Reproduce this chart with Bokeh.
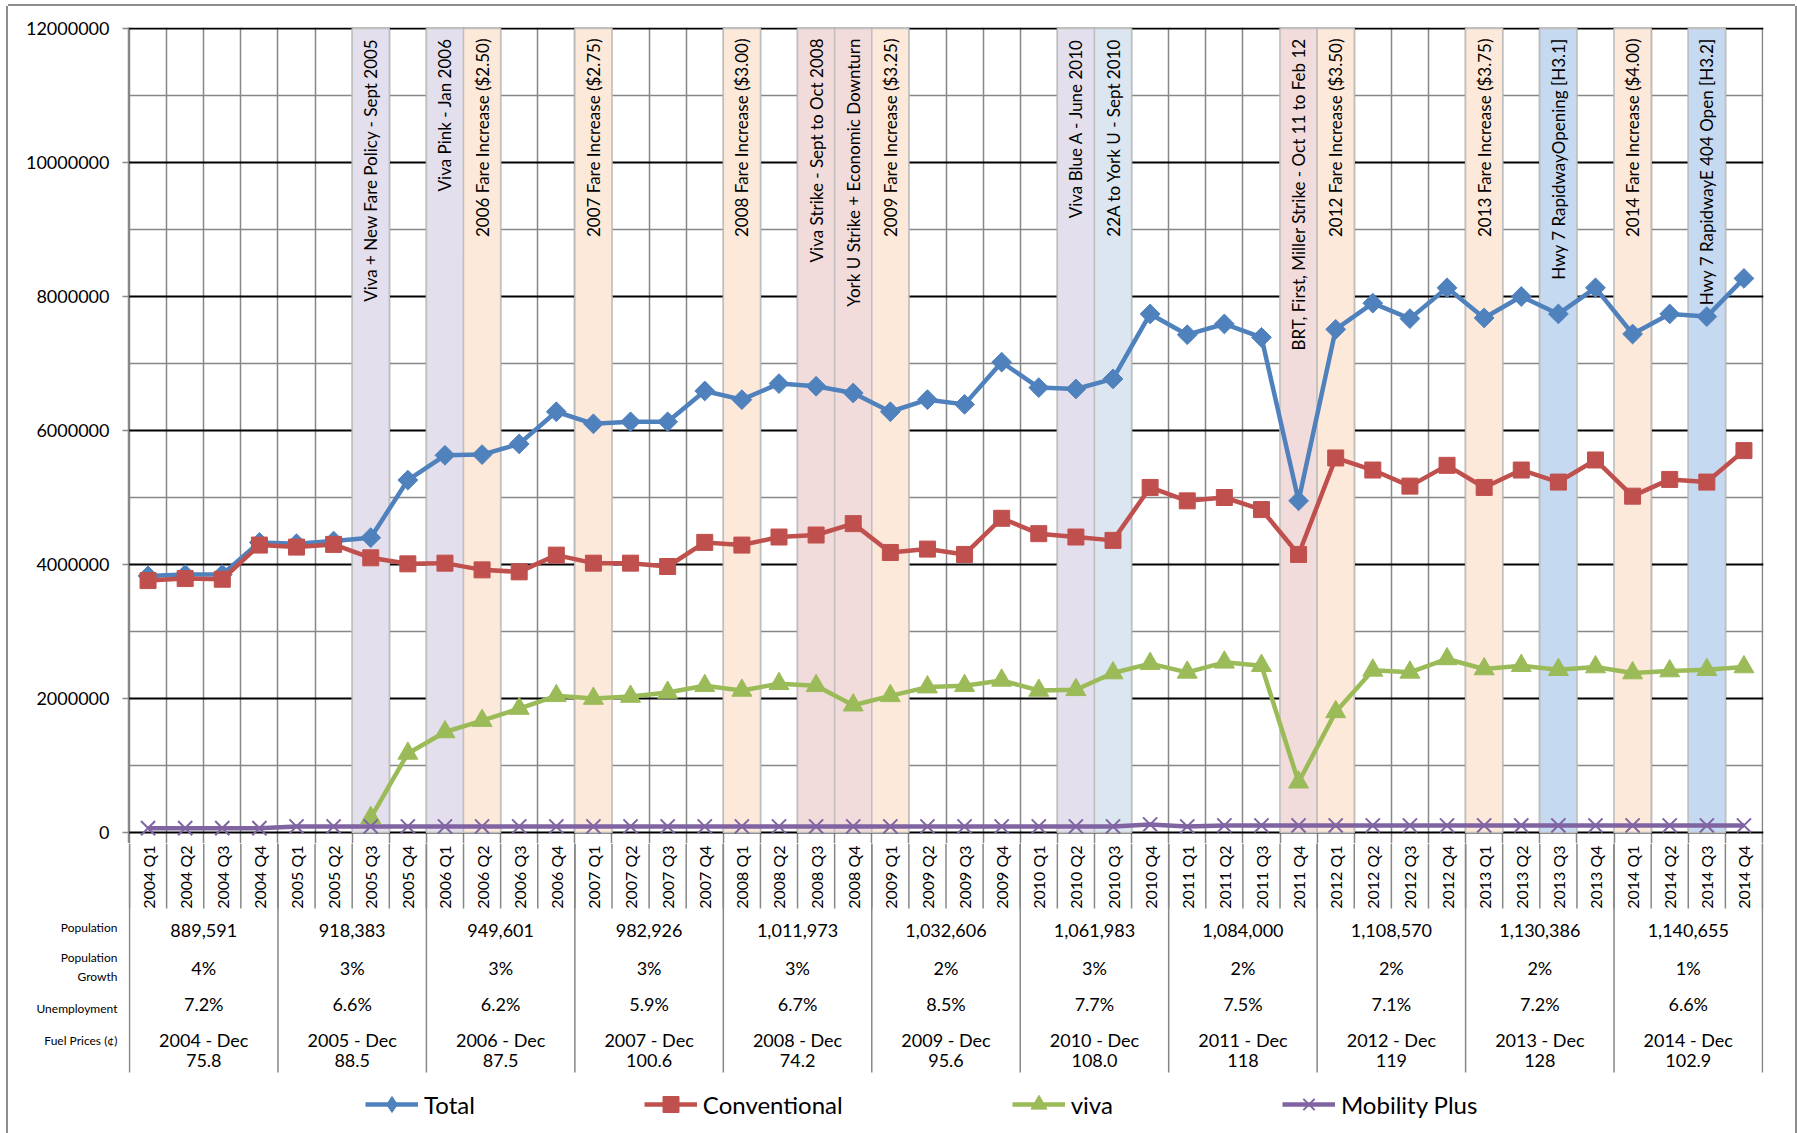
import math
from bokeh.plotting import figure
from bokeh.models import (Range1d, FixedTicker, Grid, Legend, LegendItem,
                          NumeralTickFormatter, ColumnDataSource)
from bokeh.layouts import column
from bokeh.embed import file_html
from bokeh.resources import INLINE
from bokeh.core.properties import value

nan = float("nan")

# ---------------- data ----------------
years = ["2004", "2005", "2006", "2007", "2008", "2009", "2010", "2011", "2012", "2013", "2014"]
quarter_names = ["Q1", "Q2", "Q3", "Q4"]
quarters = [f"{y} {q}" for y in years for q in quarter_names]

total = [3830000, 3850000, 3850000, 4330000,
         4310000, 4350000, 4400000, 5260000,
         5630000, 5640000, 5800000, 6280000,
         6100000, 6130000, 6130000, 6590000,
         6460000, 6700000, 6660000, 6560000,
         6280000, 6460000, 6390000, 7020000,
         6640000, 6620000, 6770000, 7740000,
         7430000, 7590000, 7390000, 4950000,
         7510000, 7900000, 7670000, 8130000,
         7680000, 8000000, 7740000, 8130000,
         7440000, 7740000, 7700000, 8270000]

conventional = [3760000, 3790000, 3780000, 4290000,
                4260000, 4300000, 4100000, 4010000,
                4020000, 3920000, 3890000, 4140000,
                4020000, 4020000, 3970000, 4330000,
                4290000, 4410000, 4440000, 4610000,
                4180000, 4230000, 4150000, 4690000,
                4460000, 4410000, 4360000, 5150000,
                4950000, 5000000, 4820000, 4150000,
                5590000, 5410000, 5170000, 5480000,
                5150000, 5410000, 5230000, 5560000,
                5020000, 5270000, 5230000, 5700000]

viva = [nan, nan, nan, nan,
        nan, nan, 220000, 1180000,
        1500000, 1670000, 1850000, 2040000,
        2000000, 2030000, 2090000, 2190000,
        2120000, 2220000, 2190000, 1900000,
        2040000, 2170000, 2190000, 2270000,
        2120000, 2130000, 2380000, 2520000,
        2390000, 2540000, 2490000, 750000,
        1800000, 2420000, 2390000, 2590000,
        2440000, 2490000, 2430000, 2470000,
        2380000, 2410000, 2430000, 2470000]

mobility_plus = [65000, 65000, 65000, 65000,
                 90000, 90000, 90000, 90000,
                 90000, 90000, 90000, 90000,
                 90000, 90000, 90000, 90000,
                 90000, 90000, 90000, 90000,
                 90000, 90000, 90000, 90000,
                 90000, 90000, 90000, 120000,
                 90000, 105000, 105000, 105000,
                 105000, 105000, 105000, 105000,
                 105000, 105000, 105000, 105000,
                 105000, 105000, 105000, 105000]

# event bands: quarter label, text, kind
band_quarter = ["2005 Q3", "2006 Q1", "2006 Q2", "2007 Q1", "2008 Q1", "2008 Q3", "2008 Q4",
                "2009 Q1", "2010 Q2", "2010 Q3", "2011 Q4", "2012 Q1", "2013 Q1", "2013 Q3",
                "2014 Q1", "2014 Q3"]
band_text = ["Viva + New Fare Policy - Sept 2005", "Viva Pink - Jan 2006",
             "2006 Fare Increase ($2.50)", "2007 Fare Increase ($2.75)",
             "2008 Fare Increase ($3.00)", "Viva Strike - Sept to Oct 2008",
             "York U Strike + Economic Downturn", "2009 Fare Increase ($3.25)",
             "Viva Blue A - June 2010", "22A to York U - Sept 2010",
             "BRT, First, Miller Strike - Oct 11 to Feb 12", "2012 Fare Increase ($3.50)",
             "2013 Fare Increase ($3.75)", "Hwy 7 RapidwayOpening [H3.1]",
             "2014 Fare Increase ($4.00)", "Hwy 7 RapidwayE 404 Open [H3.2]"]
band_kind = ["viva", "viva", "fare", "fare", "fare", "strike", "strike", "fare",
             "viva", "route", "strike", "fare", "fare", "rapidway", "fare", "rapidway"]

population = ["889,591", "918,383", "949,601", "982,926", "1,011,973", "1,032,606",
              "1,061,983", "1,084,000", "1,108,570", "1,130,386", "1,140,655"]
population_growth = ["4%", "3%", "3%", "3%", "3%", "2%", "3%", "2%", "2%", "2%", "1%"]
unemployment = ["7.2%", "6.6%", "6.2%", "5.9%", "6.7%", "8.5%", "7.7%", "7.5%", "7.1%", "7.2%", "6.6%"]
fuel_prices = ["75.8", "88.5", "87.5", "100.6", "74.2", "95.6", "108.0", "118", "119", "128", "102.9"]

y_ticks = [0, 2000000, 4000000, 6000000, 8000000, 10000000, 12000000]
y_minor = [1000000, 3000000, 5000000, 7000000, 9000000, 11000000]

# ---------------- styles ----------------
FONT = "Lato"
C_TOTAL, C_CONV, C_VIVA, C_MOB = "#4F81BD", "#C0504D", "#9BBB59", "#8064A2"
BAND_COLORS = {"viva": "#E4DFEC", "fare": "#FDE9D9", "strike": "#F2DCDB",
               "route": "#DCE6F1", "rapidway": "#C5D9F1"}
GRID_GRAY = "#878787"

W = 1787
BL, BR = 120, 32
FRAME_W = W - BL - BR
PLOT_PX = 804          # pixels from 0 to 12,000,000
PAD_BOTTOM = 11        # frame extends a little below 0 (category lines continue)
FRAME_H = 1 + PLOT_PX + PAD_BOTTOM
TOP = 21
HA = TOP + FRAME_H
HB = 290

n = len(quarters)
dx = n / (FRAME_W - 2)
ymax = 12000000
dy = ymax / PLOT_PX

xc = [i + 0.5 for i in range(n)]

# ---------------- main chart ----------------
A = figure(width=W, height=HA, x_range=Range1d(-dx, n + dx),
           y_range=Range1d(-PAD_BOTTOM * dy, ymax + dy),
           output_backend="svg", toolbar_location=None, x_axis_location=None,
           y_axis_location="left", min_border_left=BL, min_border_right=BR,
           min_border_top=TOP, min_border_bottom=0, title=None)
A.outline_line_color = None
A.xgrid.grid_line_color = None
A.ygrid.grid_line_color = None
A.background_fill_color = "white"
A.border_fill_color = "white"

A.add_layout(Grid(dimension=0, ticker=FixedTicker(ticks=list(range(n + 1))),
                  grid_line_color=GRID_GRAY, grid_line_width=1.5))
A.add_layout(Grid(dimension=1, ticker=FixedTicker(ticks=y_ticks, minor_ticks=y_minor),
                  grid_line_color="black", grid_line_width=2,
                  minor_grid_line_color=GRID_GRAY, minor_grid_line_width=1.5))

ax = A.yaxis[0]
ax.ticker = FixedTicker(ticks=y_ticks)
ax.formatter = NumeralTickFormatter(format="0")
ax.axis_line_color = GRID_GRAY
ax.axis_line_width = 1.5
ax.major_tick_line_color = GRID_GRAY
ax.major_tick_line_width = 1.5
ax.major_tick_out = 6
ax.major_tick_in = 0
ax.minor_tick_line_color = None
ax.major_label_standoff = 13
ax.major_label_text_font = FONT
ax.major_label_text_font_size = "18px"
ax.major_label_text_color = "black"

qi = {q: i for i, q in enumerate(quarters)}
band_src = ColumnDataSource(dict(
    left=[qi[q] for q in band_quarter],
    right=[qi[q] + 1 for q in band_quarter],
    xm=[qi[q] + 0.5 for q in band_quarter],
    color=[BAND_COLORS[k] for k in band_kind],
    text=band_text,
))
A.quad(left="left", right="right", bottom=0, top=ymax, fill_color="color",
       line_color="#BFBFBF", line_width=1.5, source=band_src)
A.text(x="xm", y=ymax - 10 * dy, text="text", source=band_src, angle=math.pi / 2,
       text_align="right", text_baseline="middle", text_font=value(FONT),
       text_font_size="17px", text_color="black")

series = [
    ("Total", total, C_TOTAL, dict(marker="square", size=14, angle=math.pi / 4), "diamond"),
    ("Conventional", conventional, C_CONV, dict(marker="square", size=16), "square"),
    ("viva", viva, C_VIVA, dict(marker="triangle", size=20), "triangle"),
    ("Mobility Plus", mobility_plus, C_MOB, dict(marker="x", size=20), "x"),
]
for name, vals, col, mk, _ in series:
    A.line(x=xc, y=vals, line_color=col, line_width=4.5)
    if mk["marker"] == "x":
        A.scatter(x=xc, y=vals, line_color=col, line_width=2, **mk)
    else:
        A.scatter(x=xc, y=vals, fill_color=col, line_color=col, **mk)

# ---------------- table below ----------------
B = figure(width=W, height=HB, x_range=A.x_range, y_range=Range1d(0, HB),
           output_backend="svg", toolbar_location=None, x_axis_location=None,
           y_axis_location="left", min_border_left=BL, min_border_right=BR,
           min_border_top=0, min_border_bottom=0, title=None)
B.outline_line_color = None
B.xgrid.grid_line_color = None
B.ygrid.grid_line_color = None

qb = list(range(n + 1))
B.segment(x0=qb, y0=[HB] * len(qb), x1=qb, y1=[HB - 65] * len(qb),
          line_color=GRID_GRAY, line_width=1.5)
yb = list(range(0, n + 1, 4))
B.segment(x0=yb, y0=[HB] * len(yb), x1=yb, y1=[HB - 229] * len(yb),
          line_color=GRID_GRAY, line_width=1.5)

B.text(x=xc, y=[HB - 2] * n, text=quarters, angle=math.pi / 2, text_align="right",
       text_baseline="middle", text_font=value(FONT), text_font_size="16px",
       text_color="black")

yc = [4 * i + 2 for i in range(len(years))]
fuel_top = [f"{y} - Dec" for y in years]
rows = [(population, 87), (population_growth, 124), (unemployment, 160),
        (fuel_top, 196), (fuel_prices, 217)]
for texts, off in rows:
    B.text(x=yc, y=[HB - off] * len(yc), text=texts, text_align="center",
           text_baseline="middle", text_font=value(FONT), text_font_size="18px",
           text_color="black")

row_label_pos = {HB - 84: "Population", HB - 114: "Population", HB - 133: "Growth",
                 HB - 165: "Unemployment", HB - 197: "Fuel Prices (¢)"}
bx = B.yaxis[0]
bx.ticker = FixedTicker(ticks=sorted(row_label_pos))
bx.major_label_overrides = row_label_pos
bx.axis_line_color = None
bx.major_tick_line_color = None
bx.minor_tick_line_color = None
bx.major_label_standoff = 5
bx.major_label_text_font = FONT
bx.major_label_text_font_size = "12px"
bx.major_label_text_color = "black"

items = []
for name, vals, col, mk, legend_marker in series:
    lr = B.line(x=[nan], y=[nan], line_color=col, line_width=4.5)
    if legend_marker == "x":
        sr = B.scatter(x=[nan], y=[nan], marker="x", size=20, line_color=col, line_width=2)
    else:
        sr = B.scatter(x=[nan], y=[nan], marker=legend_marker, size=20,
                       fill_color=col, line_color=col)
    items.append(LegendItem(label=name, renderers=[lr, sr]))

legend = Legend(items=items, orientation="horizontal", location=(237, 9), spacing=169,
                glyph_width=53, glyph_height=40, label_height=40, label_standoff=6,
                padding=0, margin=0, border_line_color=None, background_fill_alpha=0,
                label_text_font=FONT, label_text_font_size="24px", label_text_color="black")
B.add_layout(legend, "center")

layout = column(A, B, spacing=0,
                styles={"margin": "6px 0px 0px 8px",
                        "box-shadow": "-2px 0px 0px 0px #8C8C8C, 2px 0px 0px 0px #8C8C8C, "
                                      "0px -2px 0px 0px #8C8C8C"})

open("out.html", "w").write(file_html(layout, INLINE))
